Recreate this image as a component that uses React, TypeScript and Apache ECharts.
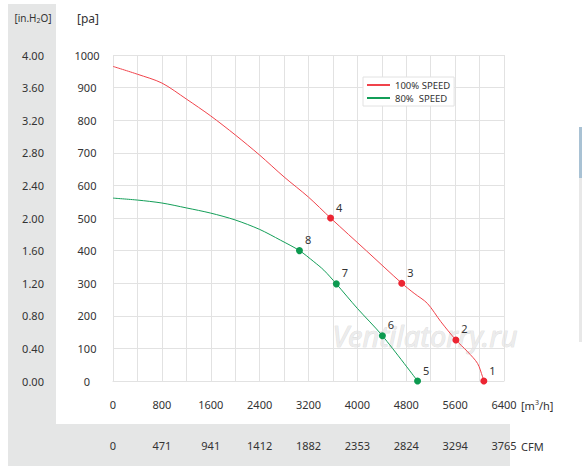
import React, { useEffect, useRef } from "react";
import * as echarts from "echarts";

const redCurve: [number, number][] = [
  [0, 965], [400, 941], [800, 914], [1200, 865], [1600, 813], [2000, 755],
  [2400, 693], [2800, 626], [3200, 564], [3561, 500], [4150, 399], [4726, 300],
  [4929, 269], [5146, 238], [5366, 182], [5612, 126], [5803, 90], [5967, 54],
  [6049, 13], [6070, 0],
];
const greenCurve: [number, number][] = [
  [0, 561], [400, 555], [800, 546], [1200, 531], [1600, 515], [2000, 494],
  [2400, 465], [2741, 432], [3052, 400], [3287, 366], [3451, 340], [3655, 298],
  [3998, 223], [4409, 139], [4985, 0],
];
const redPoints: [number, number, string][] = [
  [6070, 0, "1"], [5612, 126, "2"], [4726, 300, "3"], [3561, 500, "4"],
];
const greenPoints: [number, number, string][] = [
  [4985, 0, "5"], [4409, 139, "6"], [3655, 298, "7"], [3052, 400, "8"],
];
const cfmLabels = ["0", "471", "941", "1412", "1882", "2353", "2824", "3294", "3765"];
const inH2OLabels = ["0.00", "0.40", "0.80", "1.20", "1.60", "2.00", "2.40", "2.80", "3.20", "3.60", "4.00"];
const seriesNames = ["100% SPEED", "80%  SPEED"];

const RED = "#f0434b";
const RED_DOT = "#ec2532";
const GREEN = "#139e58";
const GREEN_DOT = "#0c9a50";
const TXT = "#333";
const GRID = "#e2e2e2";
const FONT = "Noto Sans";

export default function App() {
  const ref = useRef<HTMLDivElement>(null);
  useEffect(() => {
    if (!ref.current) return;
    const chart = echarts.init(ref.current, undefined, { renderer: "svg" });
    const pointLabel = {
      show: true,
      position: "right" as const,
      distance: 2,
      offset: [0, -11],
      color: TXT,
      fontSize: 11,
      fontFamily: FONT,
      formatter: (p: any) => p.data[2],
    };
    chart.setOption({
      animation: false,
      backgroundColor: "#fff",
      textStyle: { fontFamily: FONT },
      graphic: [
        { type: "rect", z: -10, shape: { x: 8, y: 4, width: 48, height: 462 }, style: { fill: "#e5e6e6" } },
        { type: "rect", z: -10, shape: { x: 8, y: 424, width: 502, height: 42 }, style: { fill: "#e5e6e6" } },
        { type: "rect", z: -10, shape: { x: 579, y: 127, width: 3, height: 51 }, style: { fill: "#a9c2d4" } },
        { type: "rect", z: -10, shape: { x: 579, y: 178, width: 3, height: 164 }, style: { fill: "#e8e8e8" } },
        {
          type: "text", x: 88, y: 18,
          style: { text: "[pa]", fill: TXT, font: `12px "${FONT}"`, align: "center", verticalAlign: "middle" },
        },
        {
          type: "text", x: 33, y: 18,
          style: {
            text: "{a|[in.H}{s|2}{a|O]}",
            align: "center", verticalAlign: "middle",
            rich: {
              a: { fill: TXT, fontSize: 10, fontFamily: FONT },
              s: { fill: TXT, fontSize: 7, fontFamily: FONT, padding: [5, 0, 0, 0] },
            },
          },
        },
        {
          type: "text", x: 521, y: 405,
          style: {
            text: "{a|[m}{s|3}{a|/h]}",
            verticalAlign: "middle",
            rich: {
              a: { fill: TXT, fontSize: 11, fontFamily: FONT },
              s: { fill: TXT, fontSize: 7, fontFamily: FONT, padding: [0, 0, 6, 0] },
            },
          },
        },
        {
          type: "text", x: 521, y: 446,
          style: { text: "CFM", fill: TXT, font: `11px "${FONT}"`, verticalAlign: "middle" },
        },
        {
          type: "text", x: 425, y: 335, z: 0,
          style: {
            text: "Ventilatorry.ru",
            font: `italic 29px "${FONT}"`,
            fill: "#ececec",
            stroke: "#d4d4d4",
            lineWidth: 0.6,
            align: "center",
            verticalAlign: "middle",
          },
        },
      ],
      grid: { left: 113, right: 78, top: 55, bottom: 90 },
      legend: {
        data: seriesNames,
        orient: "vertical",
        left: 363,
        top: 77,
        icon: "rect",
        itemWidth: 23,
        itemHeight: 2,
        itemGap: 3,
        padding: [3, 4, 3, 4],
        borderColor: "#e2e2e2",
        borderWidth: 1,
        backgroundColor: "#fff",
        textStyle: { fontSize: 9.5, color: TXT, fontFamily: FONT },
      },
      xAxis: [
        {
          type: "value", min: 0, max: 6400, interval: 800, position: "bottom",
          axisLine: { show: true, lineStyle: { color: GRID } },
          axisTick: { show: false },
          splitLine: { show: true, lineStyle: { color: GRID } },
          minorTick: { show: false, splitNumber: 2 },
          minorSplitLine: { show: true, lineStyle: { color: GRID } },
          axisLabel: {
            margin: 18, color: TXT, fontSize: 11, fontFamily: FONT,
            formatter: (v: number) => String(v),
          },
        },
        {
          type: "value", min: 0, max: 6400, interval: 800, position: "bottom", offset: 41,
          axisLine: { show: false }, axisTick: { show: false }, splitLine: { show: false },
          axisLabel: {
            margin: 18, color: TXT, fontSize: 11, fontFamily: FONT,
            formatter: (v: number) => cfmLabels[Math.round(v / 800)] ?? "",
          },
        },
      ],
      yAxis: [
        {
          type: "value", min: 0, max: 1000, interval: 100, position: "left",
          axisLine: { show: false }, axisTick: { show: false },
          splitLine: { show: true, lineStyle: { color: GRID } },
          axisLabel: {
            margin: 26, align: "center", color: TXT, fontSize: 11, fontFamily: FONT,
            formatter: (v: number) => String(v),
          },
        },
        {
          type: "value", min: 0, max: 1000, interval: 100, position: "left",
          axisLine: { show: false }, axisTick: { show: false }, splitLine: { show: false },
          axisLabel: {
            margin: 80, align: "center", color: TXT, fontSize: 11, fontFamily: FONT,
            formatter: (v: number) => inH2OLabels[Math.round(v / 100)] ?? "",
          },
        },
      ],
      series: [
        {
          name: seriesNames[0], type: "line", data: redCurve, smooth: 0.3, symbol: "none",
          color: RED, lineStyle: { color: RED, width: 1 }, z: 3,
        },
        {
          name: seriesNames[1], type: "line", data: greenCurve, smooth: 0.3, symbol: "none",
          color: GREEN, lineStyle: { color: GREEN, width: 1 }, z: 3,
        },
        {
          name: "red points", type: "scatter", data: redPoints, symbolSize: 7,
          itemStyle: { color: RED_DOT, opacity: 1 }, label: pointLabel, z: 4,
        },
        {
          name: "green points", type: "scatter", data: greenPoints, symbolSize: 7,
          itemStyle: { color: GREEN_DOT, opacity: 1 }, label: pointLabel, z: 4,
        },
      ],
    });
    return () => chart.dispose();
  }, []);
  return (
    <div
      ref={ref}
      style={{ position: "fixed", left: 0, top: 0, width: 582, height: 471 }}
    />
  );
}
